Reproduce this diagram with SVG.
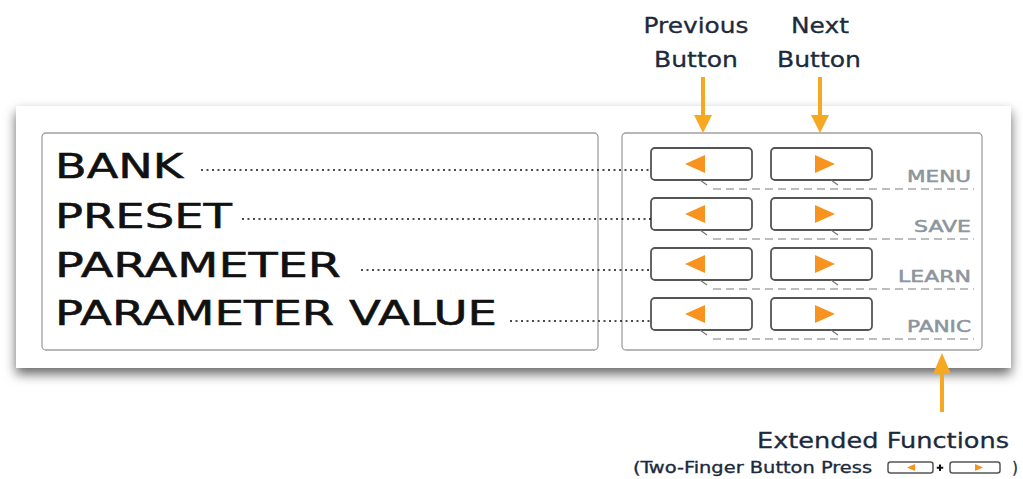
<svg xmlns="http://www.w3.org/2000/svg" width="1023" height="479" viewBox="0 0 1023 479">
<style>
.big{font-family:"DejaVu Sans",sans-serif;font-size:34px;fill:#111;stroke:#111;stroke-width:0.55}
.fn{font-family:"DejaVu Sans",sans-serif;font-size:15px;fill:#8d959e;stroke:#8d959e;stroke-width:0.5;text-anchor:end}
.cap{font-family:"DejaVu Sans",sans-serif;font-size:21px;fill:#1c2a3c;stroke:#1c2a3c;stroke-width:0.3}
.sm{font-family:"DejaVu Sans Condensed","DejaVu Sans",sans-serif;font-size:16px;fill:#1c2a3c;stroke:#1c2a3c;stroke-width:0.3}
.box{fill:#fff;stroke:#a0a0a0;stroke-width:1.3}
.btn{fill:#fff;stroke:#555;stroke-width:1.8}
.tri{fill:#f7931e}
.tick{stroke:#777;stroke-width:1.2}
.dash{stroke:#bdbdbd;stroke-width:2;stroke-dasharray:8 5;fill:none}
.lead{stroke:#111;stroke-width:1.7;stroke-dasharray:2 3.5;fill:none}
.arr{stroke:#f7a823;stroke-width:4;fill:none}
.head{fill:#f7a823}
</style>
<defs>
<filter id="sh" x="-10%" y="-20%" width="120%" height="150%">
<feDropShadow dx="0" dy="6" stdDeviation="6" flood-color="#000" flood-opacity="0.6"/>
</filter>
<g id="btnrow">
<rect class="btn" x="651" y="0" width="101" height="32" rx="4"/>
<polygon class="tri" points="685,16 705,7 705,25"/>
<line class="tick" x1="700" y1="32" x2="707" y2="37"/>
<rect class="btn" x="771" y="0" width="101" height="32" rx="4"/>
<polygon class="tri" points="835,16 815,7 815,25"/>
<line class="tick" x1="831" y1="32" x2="838" y2="37"/>
<line class="dash" x1="713" y1="41" x2="974" y2="41"/>
</g>
</defs>
<rect width="1023" height="479" fill="#fff"/>
<g id="panel">
<rect x="16" y="106" width="995" height="262" fill="#fff" filter="url(#sh)"/>
</g>
<g id="display">
<rect class="box" x="42" y="133" width="556" height="217" rx="4"/>
<text class="big" x="55" y="178" textLength="128" lengthAdjust="spacingAndGlyphs">BANK</text>
<text class="big" x="55" y="228" textLength="177" lengthAdjust="spacingAndGlyphs">PRESET</text>
<text class="big" x="55" y="277" textLength="286" lengthAdjust="spacingAndGlyphs">PARAMETER</text>
<text class="big" x="55" y="325" textLength="442" lengthAdjust="spacingAndGlyphs">PARAMETER VALUE</text>
</g>
<g id="buttons">
<rect class="box" x="622" y="133" width="360" height="217" rx="4"/>
<use href="#btnrow" y="148"/>
<use href="#btnrow" y="198"/>
<use href="#btnrow" y="248"/>
<use href="#btnrow" y="298"/>
<text class="fn" x="971" y="182" textLength="64" lengthAdjust="spacingAndGlyphs">MENU</text>
<text class="fn" x="971" y="232" textLength="57" lengthAdjust="spacingAndGlyphs">SAVE</text>
<text class="fn" x="971" y="282" textLength="73" lengthAdjust="spacingAndGlyphs">LEARN</text>
<text class="fn" x="971" y="332" textLength="64" lengthAdjust="spacingAndGlyphs">PANIC</text>
</g>
<g id="connectors">
<line class="lead" x1="201" y1="170" x2="651" y2="170"/>
<line class="lead" x1="242" y1="219" x2="651" y2="219"/>
<line class="lead" x1="361" y1="270" x2="651" y2="270"/>
<line class="lead" x1="510" y1="321" x2="651" y2="321"/>
<line class="arr" x1="703" y1="77" x2="703" y2="118"/>
<polygon class="head" points="694,115 712,115 703,133"/>
<line class="arr" x1="820" y1="77" x2="820" y2="118"/>
<polygon class="head" points="811,115 829,115 820,133"/>
<line class="arr" x1="942" y1="412" x2="942" y2="370"/>
<polygon class="head" points="933,374 951,374 942,353"/>
</g>
<g id="prev-label">
<text class="cap" x="696" y="33" text-anchor="middle" textLength="105" lengthAdjust="spacingAndGlyphs">Previous</text>
<text class="cap" x="696" y="67" text-anchor="middle" textLength="84" lengthAdjust="spacingAndGlyphs">Button</text>
</g>
<g id="next-label">
<text class="cap" x="820" y="33" text-anchor="middle" textLength="58" lengthAdjust="spacingAndGlyphs">Next</text>
<text class="cap" x="819" y="67" text-anchor="middle" textLength="84" lengthAdjust="spacingAndGlyphs">Button</text>
</g>
<g id="ext-label">
<text class="cap" x="757" y="448" textLength="252" lengthAdjust="spacingAndGlyphs">Extended Functions</text>
<text class="sm" x="633" y="473" textLength="239" lengthAdjust="spacingAndGlyphs">(Two-Finger Button Press</text>
<rect x="888" y="462" width="45" height="11" rx="2.5" fill="#fff" stroke="#555" stroke-width="1.5"/>
<polygon class="tri" points="907,467.5 915,464 915,471"/>
<path d="M940 464.5 V471 M936.8 467.7 H943.2" stroke="#111" stroke-width="2" fill="none"/>
<rect x="950" y="462" width="50" height="11" rx="2.5" fill="#fff" stroke="#555" stroke-width="1.5"/>
<polygon class="tri" points="983,467.5 975,464 975,471"/>
<text class="sm" x="1015" y="473" text-anchor="middle">)</text>
</g>
</svg>
